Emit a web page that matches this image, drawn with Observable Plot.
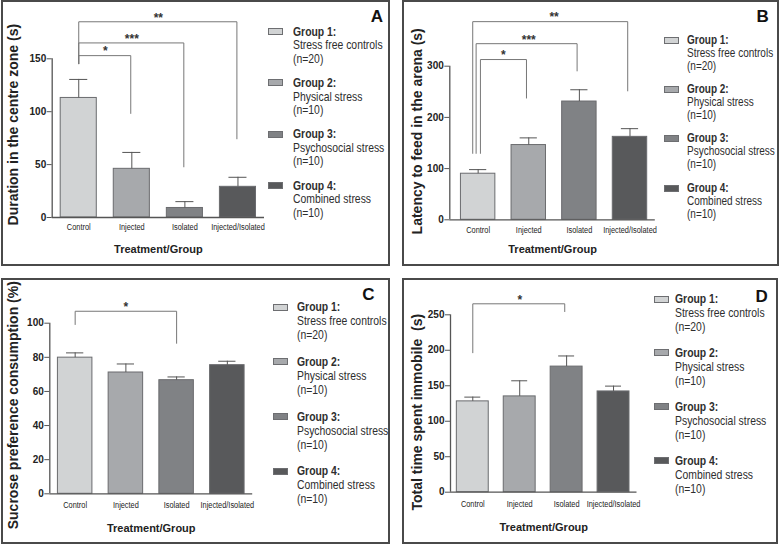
<!DOCTYPE html>
<html><head><meta charset="utf-8">
<script src="https://cdn.jsdelivr.net/npm/d3@7"></script>
<script src="https://cdn.jsdelivr.net/npm/@observablehq/plot@0.6"></script>
<style>
body{margin:0;background:#fff;}
#root{position:relative;width:780px;height:545px;overflow:hidden;font-family:"Liberation Sans",Arial,sans-serif;color:#2a2a2a;}
.panel{position:absolute;box-sizing:border-box;border:2px solid #4a4a4a;}
.sw{position:absolute;box-sizing:border-box;width:15px;height:7px;border:1px solid #6d6e71;}
.lg{position:absolute;white-space:nowrap;color:#2e2e2e;transform:scaleX(0.8);transform-origin:0 0;}
.lg b{font-weight:bold;}
.letter{position:absolute;font-family:"Liberation Sans",Arial,sans-serif;font-weight:bold;font-size:17px;line-height:1;transform:translate(-50%,-50%);color:#111;}
</style></head>
<body><div id="root"></div>
<script>
// ---------- shared data ----------
const categories = ["Control", "Injected", "Isolated", "Injected/Isolated"];
const groupTitles = ["Group 1:", "Group 2:", "Group 3:", "Group 4:"];
const groupDescriptions = ["Stress free controls", "Physical stress", "Psychosocial stress", "Combined stress"];
const groupSizes = ["(n=20)", "(n=10)", "(n=10)", "(n=10)"];
const barColors = ["#d1d3d4", "#a7a9ac", "#808285", "#58595b"];
const xTitle = "Treatment/Group";

// ---------- Panel A ----------
const centreLabel = "Duration in the centre zone (s)";
const centreMeans = [113, 46, 9, 29];
const centreSem = [17.5, 15.5, 6, 9];
const centreTicks = [0, 50, 100, 150];
const centreBrackets = [
  {from: "Control", to: "Injected", top: 153, leftEnd: 145, rightEnd: 98, label: "*"},
  {from: "Control", to: "Isolated", top: 165, leftEnd: 145, rightEnd: 47.5, label: "***"},
  {from: "Control", to: "Injected/Isolated", top: 185, leftEnd: 145, rightEnd: 74, label: "**"}
];

// ---------- Panel B ----------
const latencyLabel = "Latency to feed in the arena (s)";
const latencyMeans = [90, 146, 231, 162];
const latencySem = [8, 14, 23, 16];
const latencyTicks = [0, 100, 200, 300];
const latencyBrackets = [
  {from: "Control", to: "Injected", top: 313, leftEnd: 129, rightEnd: 237, label: "*"},
  {from: "Control", to: "Isolated", top: 344, leftEnd: 129, rightEnd: 290, label: "***"},
  {from: "Control", to: "Injected/Isolated", top: 387, leftEnd: 129, rightEnd: 251, label: "**"}
];

// ---------- Panel C ----------
const sucroseLabel = "Sucrose preference consumption (%)";
const sucroseMeans = [79.8, 71.1, 66.6, 75.4];
const sucroseSem = [2.8, 5, 1.9, 2.3];
const sucroseTicks = [0, 20, 40, 60, 80, 100];
const sucroseBrackets = [
  {from: "Control", to: "Isolated", top: 107, leftEnd: 99, rightEnd: 88, label: "*"}
];

// ---------- Panel D ----------
const immobileLabel = "Total time spent immobile  (s)";
const immobileMeans = [128, 135, 177, 142];
const immobileSem = [6, 22, 15, 7.5];
const immobileTicks = [0, 50, 100, 150, 200, 250];
const immobileBrackets = [
  {from: "Control", to: "Isolated", top: 265.5, leftEnd: 196, rightEnd: 254, label: "*"}
];

// ---------- layout (styles / positions only) ----------
const panels = [
  {letter: "A", L: 1, T: 0, W: 389, H: 266, ml: 50.7, mr: 126, mt: 58.3, mb: 49,
   xDomain: [-0.5, 3.5], yDomain: [0, 150], ticks: centreTicks, means: centreMeans, sems: centreSem,
   brackets: centreBrackets, legShift: [0, 0, 0], rightShift: -0.02,
   yLabel: centreLabel, yDx: -38.7, yDy: -13.5, xDy: 35.5, catPad: 6.5,
   letterX: 377, letterY: 16, leg: {sw: 268, tx: 293, y0: 31.7, step: 51.2, lh: 13.5, fs: 13}},
  {letter: "B", L: 402, T: 0, W: 377, H: 266, ml: 47.3, mr: 124.2, mt: 65.7, mb: 46.7,
   xDomain: [-0.56, 3.5], yDomain: [0, 300], ticks: latencyTicks, means: latencyMeans, sems: latencySem,
   brackets: latencyBrackets, legShift: [0.045, -0.04, -0.107], rightShift: -0.045,
   yLabel: latencyLabel, yDx: -32.6, yDy: -11.7, xDy: 33.4, catPad: 7,
   letterX: 762.7, letterY: 16, leg: {sw: 664, tx: 687, y0: 40.7, step: 49.1, lh: 13, fs: 12.5}},
  {letter: "C", L: 1, T: 278, W: 389, H: 266, ml: 48.3, mr: 137.8, mt: 44.7, mb: 50.7,
   xDomain: [-0.5, 3.5], yDomain: [0, 100], ticks: sucroseTicks, means: sucroseMeans, sems: sucroseSem,
   brackets: sucroseBrackets, legShift: [0], rightShift: 0,
   yLabel: sucroseLabel, yDx: -36, yDy: -3.3, xDy: 37.7, catPad: 8,
   letterX: 368.3, letterY: 294.3, leg: {sw: 273, tx: 296.7, y0: 307.3, step: 54.6, lh: 14, fs: 13}},
  {letter: "D", L: 402, T: 278, W: 376, H: 266, ml: 48, mr: 141.5, mt: 36.3, mb: 52.3,
   xDomain: [-0.475, 3.5], yDomain: [0, 250], ticks: immobileTicks, means: immobileMeans, sems: immobileSem,
   brackets: immobileBrackets, legShift: [0], rightShift: -0.04,
   yLabel: immobileLabel, yDx: -33.3, yDy: 8.7, xDy: 38.3, catPad: 8,
   letterX: 761.7, letterY: 295.7, leg: {sw: 654, tx: 675, y0: 299, step: 53.9, lh: 14.3, fs: 13}}
];

const root = document.getElementById("root");
const hw = 0.34;
const squeezeK = 0.82;

for (const p of panels) {
  const box = document.createElement("div");
  box.className = "panel";
  Object.assign(box.style, {left: p.L + "px", top: p.T + "px", width: p.W + "px", height: p.H + "px"});
  root.appendChild(box);

  const rows = categories.map((c, i) => ({i, category: c, mean: p.means[i], sem: p.sems[i], color: barColors[i]}));
  const br = p.brackets.map((b, j) => {
    const i1 = categories.indexOf(b.from), i2 = categories.indexOf(b.to);
    return {...b, i1, i2, xl: i1 + p.legShift[j], xr: i2 + p.rightShift};
  });

  const chart = Plot.plot({
    width: p.W, height: p.H,
    marginLeft: p.ml, marginRight: p.mr, marginTop: p.mt, marginBottom: p.mb,
    x: {domain: p.xDomain},
    y: {domain: p.yDomain},
    color: {type: "identity"},
    style: {fontFamily: '"Liberation Sans",Arial,sans-serif', background: "transparent", overflow: "visible", color: "#222"},
    marks: [
      Plot.rectY(rows, {x1: d => d.i - hw, x2: d => d.i + hw, y1: 0, y2: "mean", fill: "color", stroke: "#6a6b6e", strokeWidth: 1}),
      Plot.ruleX(rows, {x: "i", y1: "mean", y2: d => d.mean + d.sem, stroke: "#555", strokeWidth: 1}),
      Plot.ruleY(rows, {y: d => d.mean + d.sem, x1: d => d.i - hw / 2, x2: d => d.i + hw / 2, stroke: "#555", strokeWidth: 1}),
      Plot.link(br, {x1: "xl", x2: "xl", y1: "leftEnd", y2: "top", stroke: "#777", strokeWidth: 1}),
      Plot.link(br, {x1: "xl", x2: "xr", y1: "top", y2: "top", stroke: "#777", strokeWidth: 1}),
      Plot.link(br, {x1: "xr", x2: "xr", y1: "top", y2: "rightEnd", stroke: "#777", strokeWidth: 1}),
      Plot.text(br, {x: d => (d.i1 + d.i2) / 2, y: "top", text: "label", dy: -4, fontSize: 12, fontWeight: "bold", fill: "#333"}),
      Plot.ruleX([p.xDomain[0]], {stroke: "#555", strokeWidth: 1.3}),
      Plot.ruleY([0], {stroke: "#555", strokeWidth: 1.3}),
      Plot.axisY({ticks: p.ticks, tickSize: 5, tickPadding: 1, fontSize: 10, fontWeight: "bold", label: null, stroke: "#555"}),
      Plot.axisX({ticks: [0, 1, 2, 3], tickFormat: i => categories[i], tickSize: 0, tickPadding: p.catPad, fontSize: 9, label: null}),
      Plot.text([p.yLabel], {text: d => d, frameAnchor: "left", textAnchor: "middle", rotate: -90, dx: p.yDx, dy: p.yDy, fontSize: 14, fontWeight: "bold", fill: "#222"}),
      Plot.text([xTitle], {text: d => d, frameAnchor: "bottom", textAnchor: "middle", dy: p.xDy, fontSize: 11, fontWeight: "bold", fill: "#222"})
    ]
  });
  // narrow (condensed) look for category labels, as in the original figure
  chart.querySelectorAll('g[aria-label="x-axis tick label"] text').forEach(t => {
    t.setAttribute("transform", (t.getAttribute("transform") || "") + ` scale(${squeezeK},1)`);
  });
  Object.assign(chart.style, {position: "absolute", left: p.L + "px", top: p.T + "px"});
  root.appendChild(chart);

  // legend
  for (let k = 0; k < 4; k++) {
    const cy = p.leg.y0 + k * p.leg.step;
    const sw = document.createElement("div");
    sw.className = "sw";
    Object.assign(sw.style, {left: p.leg.sw + "px", top: (cy - 3.5) + "px", background: barColors[k]});
    root.appendChild(sw);
    const tx = document.createElement("div");
    tx.className = "lg";
    Object.assign(tx.style, {left: p.leg.tx + "px", top: (cy - p.leg.lh / 2) + "px", lineHeight: p.leg.lh + "px", fontSize: p.leg.fs + "px"});
    tx.innerHTML = "<b>" + groupTitles[k] + "</b><br>" + groupDescriptions[k] + "<br>" + groupSizes[k];
    root.appendChild(tx);
  }
  const lt = document.createElement("div");
  lt.className = "letter";
  lt.textContent = p.letter;
  Object.assign(lt.style, {left: p.letterX + "px", top: p.letterY + "px"});
  root.appendChild(lt);
}
</script></body></html>
